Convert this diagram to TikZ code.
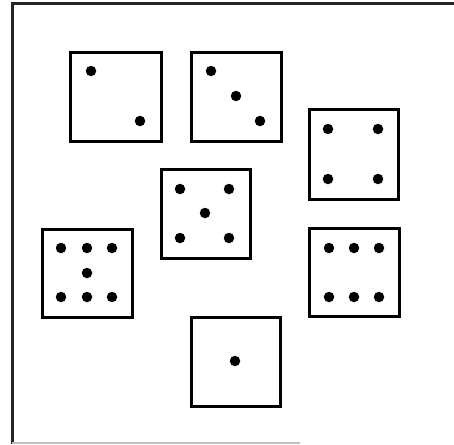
\documentclass[tikz,border=0pt]{standalone}
\begin{document}
\begin{tikzpicture}[x=1pt,y=-1pt,
  face/.style={draw=black,line width=3pt,fill=white},
  pip/.style={circle,fill=black,inner sep=0pt,minimum size=10.5pt},
  frame/.style={draw=black!85,line width=3pt}]
\useasboundingbox (0,0) rectangle (454,444);
% frame
\coordinate (ftl) at (12,4);
\coordinate (ftr) at (454,4);
\coordinate (fbl) at (12,444);
\draw[frame] (ftr) -- (ftl) -- (fbl);
\draw[draw=black!25,line width=1.2pt] (12,443) -- (300,443);
% two
\draw[face] (70,52) rectangle (161,141);
\node[pip] (a1) at (91,71) {};
\node[pip] (a2) at (140,121) {};
% three
\draw[face] (191,52) rectangle (281,141);
\node[pip] (b1) at (211,71) {};
\node[pip] (b2) at (236,96) {};
\node[pip] (b3) at (260,121) {};
% four
\draw[face] (309,109) rectangle (398,199);
\node[pip] (c1) at (328,129) {};
\node[pip] (c2) at (378,129) {};
\node[pip] (c3) at (328,179) {};
\node[pip] (c4) at (378,179) {};
% five
\draw[face] (161,169) rectangle (250,258);
\node[pip] (d1) at (180,189) {};
\node[pip] (d2) at (229,189) {};
\node[pip] (d3) at (205,213) {};
\node[pip] (d4) at (180,238) {};
\node[pip] (d5) at (229,238) {};
% seven
\draw[face] (42,229) rectangle (132,317);
\node[pip] (e1) at (61,248) {};
\node[pip] (e2) at (87,248) {};
\node[pip] (e3) at (112,248) {};
\node[pip] (e4) at (87,273) {};
\node[pip] (e5) at (61,297) {};
\node[pip] (e6) at (87,297) {};
\node[pip] (e7) at (112,297) {};
% six
\draw[face] (309,228) rectangle (399,316);
\node[pip] (f1) at (329,248) {};
\node[pip] (f2) at (354,248) {};
\node[pip] (f3) at (379,248) {};
\node[pip] (f4) at (329,297) {};
\node[pip] (f5) at (354,297) {};
\node[pip] (f6) at (379,297) {};
% one
\draw[face] (191,317) rectangle (280,406);
\node[pip] (g1) at (235,361) {};
\end{tikzpicture}
\end{document}
